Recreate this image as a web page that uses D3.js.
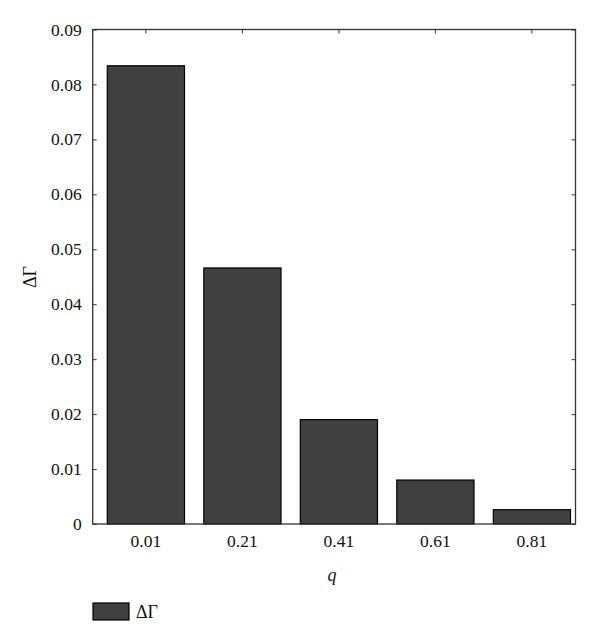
<!DOCTYPE html>
<html><head><meta charset="utf-8">
<script src="https://cdn.jsdelivr.net/npm/d3@7"></script>
<style>body{margin:0;background:#fff}svg{display:block}text{font-family:"Liberation Serif","Times New Roman",serif;fill:#111}</style>
</head><body>
<svg id="c" width="600" height="644"></svg>
<script>
const categories = ["0.01","0.21","0.41","0.61","0.81"];
const values = [0.0834,0.0466,0.0190,0.0080,0.0026];
const yTicks = [0,0.01,0.02,0.03,0.04,0.05,0.06,0.07,0.08,0.09];
const yTickLabels = ["0","0.01","0.02","0.03","0.04","0.05","0.06","0.07","0.08","0.09"];
const seriesName = "ΔΓ";
const xTitle = "q";

const svg = d3.select("#c");
const L=92.7, R=575.5, T=29.5, B=524;
const x = d3.scaleBand().domain(categories).range([97.65,580.15]).paddingInner(0.2).paddingOuter(0.1);
const y = d3.scaleLinear().domain([0,0.09]).range([B,T]);

// bars
svg.append("g").selectAll("rect").data(values).join("rect")
  .attr("x",(d,i)=>x(categories[i])).attr("width",x.bandwidth())
  .attr("y",d=>y(d)).attr("height",d=>B-y(d))
  .attr("fill","#404040").attr("stroke","#000").attr("stroke-width",1.2);

// frame
svg.append("rect").attr("x",L).attr("y",T).attr("width",R-L).attr("height",B-T)
  .attr("fill","none").attr("stroke","#333").attr("stroke-width",1.3);

// left axis (inward ticks)
const ya = svg.append("g").attr("transform",`translate(${L},0)`)
  .call(d3.axisLeft(y).tickValues(yTicks).tickFormat((d,i)=>yTickLabels[i]).tickSize(-4).tickPadding(11));
ya.select(".domain").remove();
ya.selectAll("line").attr("stroke","#333");
ya.selectAll("text").style("font-size","17.5px").attr("fill","#111");
// right ticks
const yr = svg.append("g").attr("transform",`translate(${R},0)`)
  .call(d3.axisRight(y).tickValues(yTicks).tickSize(-4).tickFormat(""));
yr.select(".domain").remove(); yr.selectAll("line").attr("stroke","#333");

// bottom axis
const xb = svg.append("g").attr("transform",`translate(0,${B})`)
  .call(d3.axisBottom(x).tickSize(0).tickPadding(11));
xb.select(".domain").remove();
xb.selectAll("text").style("font-size","17.5px").attr("fill","#111");
// top ticks
const xt = svg.append("g").attr("transform",`translate(0,${T})`)
  .call(d3.axisTop(x).tickSize(-4).tickFormat(""));
xt.select(".domain").remove(); xt.selectAll("line").attr("stroke","#333");

// titles
svg.append("text").attr("x",(L+R)/2-2).attr("y",581).attr("text-anchor","middle")
  .style("font-size","18px").style("font-style","italic").text(xTitle);
svg.append("text").attr("transform","translate(36,277) rotate(-90)").attr("text-anchor","middle")
  .style("font-size","18px").text(seriesName);

// legend
svg.append("rect").attr("x",93).attr("y",603).attr("width",36).attr("height",17)
  .attr("fill","#404040").attr("stroke","#000").attr("stroke-width",1.2);
svg.append("text").attr("x",136).attr("y",618).style("font-size","18px").text(seriesName);
</script>
</body></html>
